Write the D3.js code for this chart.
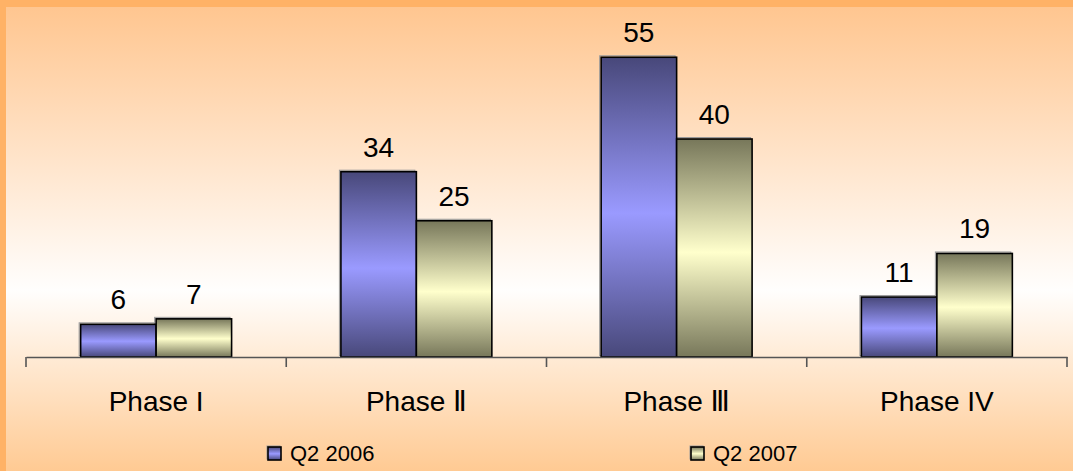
<!DOCTYPE html>
<html>
<head>
<meta charset="utf-8">
<script src="https://cdn.jsdelivr.net/npm/d3@7"></script>
<style>
  html, body { margin: 0; padding: 0; background: #fff; }
  svg { display: block; }
  text { font-family: "Liberation Sans", Arial, "DejaVu Sans", sans-serif; fill: #000; }
</style>
</head>
<body>
<svg id="chart" width="1073" height="471"></svg>
<script>
// Trials by phase, two quarters
const categories = ["Phase I", "Phase Ⅱ", "Phase Ⅲ", "Phase IV"];
const seriesNames = ["Q2 2006", "Q2 2007"];
const q2_2006 = [6, 34, 55, 11];
const q2_2007 = [7, 25, 40, 19];

const W = 1073, H = 471;
const svg = d3.select("#chart");
const defs = svg.append("defs");

// page background: warm orange fading to white and back
const bg = defs.append("linearGradient").attr("id", "bgGrad")
  .attr("x1", 0).attr("y1", 0).attr("x2", 0).attr("y2", 1);
bg.append("stop").attr("offset", "0%").attr("stop-color", "#ffc690");
bg.append("stop").attr("offset", "61%").attr("stop-color", "#fffefd");
bg.append("stop").attr("offset", "100%").attr("stop-color", "#ffca93");

// bar fills: dark edges, light centre band
function barGradient(id, edge, mid) {
  const g = defs.append("linearGradient").attr("id", id)
    .attr("x1", 0).attr("y1", 0).attr("x2", 0).attr("y2", 1);
  g.append("stop").attr("offset", "0%").attr("stop-color", edge);
  g.append("stop").attr("offset", "52%").attr("stop-color", mid);
  g.append("stop").attr("offset", "100%").attr("stop-color", edge);
}
barGradient("g0", "#48487a", "#9a9aff");
barGradient("g1", "#77775a", "#ffffcc");
const fills = ["url(#g0)", "url(#g1)"];

svg.append("rect").attr("width", W).attr("height", H).attr("fill", "#ffb266");
svg.append("rect").attr("x", 6).attr("y", 7).attr("width", W - 6).attr("height", H - 7)
  .attr("fill", "url(#bgGrad)");

const x0 = d3.scaleBand().domain(categories).range([26, 1067]).paddingInner(0).paddingOuter(0);
const inner = 0.58;
const x1 = d3.scaleBand().domain(seriesNames)
  .range([x0.bandwidth() * (1 - inner) / 2, x0.bandwidth() * (1 + inner) / 2]);
const y = d3.scaleLinear().domain([0, 60]).range([357, 30]);

const rows = categories.map((c, i) => ({
  cat: c,
  vals: [
    { s: seriesNames[0], v: q2_2006[i], k: 0 },
    { s: seriesNames[1], v: q2_2007[i], k: 1 }
  ]
}));

const groups = svg.append("g").selectAll("g").data(rows).join("g")
  .attr("transform", d => `translate(${x0(d.cat)},0)`);

// faint offset shadow behind each bar
groups.selectAll("rect.shadow").data(d => d.vals).join("rect")
  .attr("class", "shadow")
  .attr("x", d => x1(d.s) - 1.5)
  .attr("y", d => y(d.v) - 1.5)
  .attr("width", x1.bandwidth())
  .attr("height", d => y(0) - y(d.v))
  .attr("fill", "none")
  .attr("stroke", "#999")
  .attr("stroke-width", 1);

groups.selectAll("rect.bar").data(d => d.vals).join("rect")
  .attr("class", "bar")
  .attr("x", d => x1(d.s))
  .attr("y", d => y(d.v))
  .attr("width", x1.bandwidth())
  .attr("height", d => y(0) - y(d.v))
  .attr("fill", d => fills[d.k])
  .attr("stroke", "#000")
  .attr("stroke-width", 1.6);

groups.selectAll("text.val").data(d => d.vals).join("text")
  .attr("class", "val")
  .attr("x", d => x1(d.s) + x1.bandwidth() / 2)
  .attr("y", d => y(d.v) - 15)
  .attr("text-anchor", "middle")
  .attr("font-size", 28)
  .text(d => d.v);

// category axis
const axis = d3.axisBottom(x0).tickSize(0).tickPadding(0);
const ax = svg.append("g").attr("transform", `translate(0,${y(0)})`).call(axis);
ax.select(".domain").attr("stroke", "#555").attr("stroke-width", 1.6);
ax.selectAll(".tick text")
  .attr("y", 54).attr("dy", null)
  .attr("font-size", 28)
  .attr("font-family", "Liberation Sans, Arial, DejaVu Sans, sans-serif")
  .attr("fill", "#000");
const bounds = categories.map(c => x0(c)).concat([x0(categories[categories.length - 1]) + x0.bandwidth()]);
ax.selectAll("line.div").data(bounds).join("line")
  .attr("class", "div")
  .attr("x1", d => d).attr("x2", d => d)
  .attr("y1", 0).attr("y2", 10)
  .attr("stroke", "#555").attr("stroke-width", 1.6);

// legend
const legendX = [268, 691];
const leg = svg.append("g").selectAll("g").data(seriesNames).join("g")
  .attr("transform", (d, i) => `translate(${legendX[i]},447)`);
leg.append("rect").attr("x", -1).attr("y", -1).attr("width", 13).attr("height", 13)
  .attr("fill", "none").attr("stroke", "#999").attr("stroke-width", 1);
leg.append("rect").attr("x", 0).attr("y", 0).attr("width", 13).attr("height", 13)
  .attr("fill", (d, i) => fills[i]).attr("stroke", "#000").attr("stroke-width", 1.6);
leg.append("text").attr("x", 22).attr("y", 13.5)
  .attr("font-size", 22)
  .text(d => d);
</script>
</body>
</html>
